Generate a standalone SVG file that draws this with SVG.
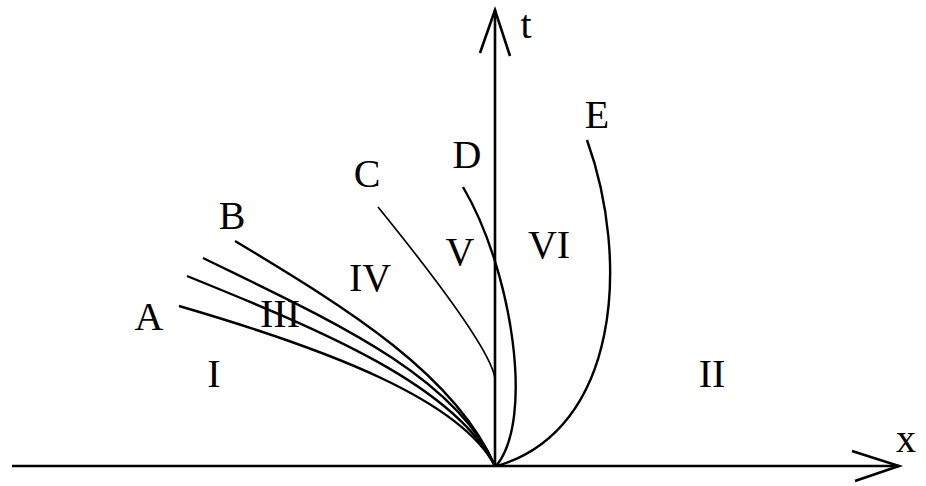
<svg xmlns="http://www.w3.org/2000/svg" width="926" height="486" viewBox="0 0 926 486">
<style>
.ax{fill:none;stroke:#000;stroke-width:2.6;stroke-linecap:butt}
.cv{fill:none;stroke:#000;stroke-width:2.4}
.thin{fill:none;stroke:#000;stroke-width:1.7}
text{font-family:"Liberation Serif","Times New Roman",serif;font-size:40px;fill:#000;text-anchor:middle}
</style>
<rect width="926" height="486" fill="#fff"/>
<g id="axes">
<line class="ax" x1="12" y1="466" x2="899" y2="466"/>
<polyline class="ax" points="852,451 899,466 855,481"/>
<line class="ax" x1="495" y1="466" x2="495" y2="10"/>
<polyline class="ax" points="480,53 495,10 510,56"/>
</g>
<g id="curves">
<path id="curveA" class="cv" d="M179,306 C330,350 460,400 495,466"/>
<path id="curve2" class="cv" d="M187,276 C320,330 455,385 495,466"/>
<path id="curve3" class="cv" d="M203,258 C330,320 455,375 495,466"/>
<path id="curveB" class="cv" d="M235,241 C350,310 455,375 495,466"/>
<path id="curveC" class="thin" d="M378,207 Q494,350 495,380 L495,466"/>
<path id="curveD" class="cv" d="M463,187 C512,270 535,420 496,466"/>
<path id="curveE" class="cv" d="M587,140 C630,260 620,430 497,466"/>
</g>
<g id="labels">
<text x="526" y="38">t</text>
<text x="906" y="452">x</text>
<text x="149" y="330">A</text>
<text x="232" y="229">B</text>
<text x="367" y="187">C</text>
<text x="467" y="168">D</text>
<text x="597" y="128">E</text>
<text x="214" y="387">I</text>
<text x="712" y="387">II</text>
<text x="280" y="327">III</text>
<text x="370" y="291">IV</text>
<text x="460" y="265">V</text>
<text x="549" y="258">VI</text>
</g>
</svg>
